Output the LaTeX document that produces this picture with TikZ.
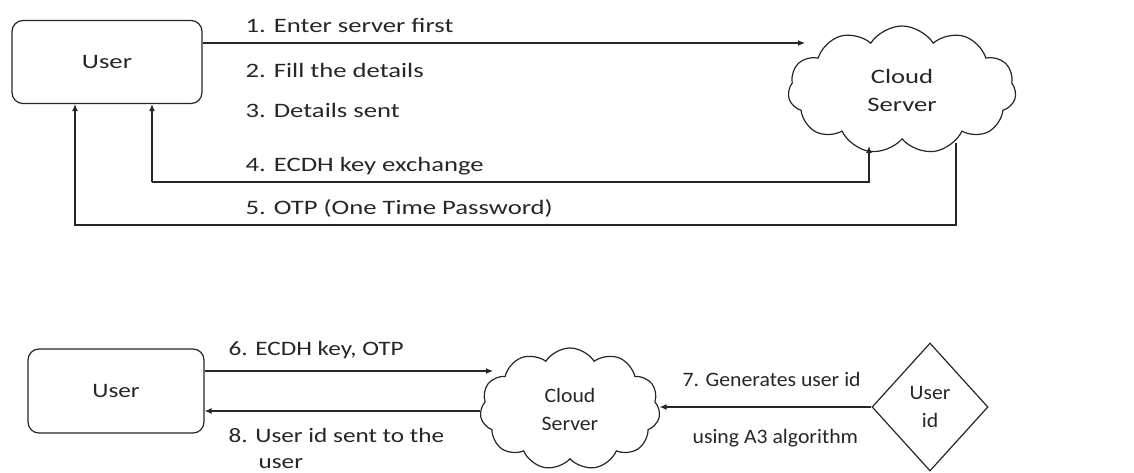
\documentclass[tikz,border=0pt]{standalone}
\usepackage{fontspec}
\setmainfont{Carlito}[FakeStretch=1.3]
\newfontfamily\fmid{Carlito}[FakeStretch=1.23]
\newfontfamily\fnarrow{Carlito}[FakeStretch=1.06]
\usetikzlibrary{shapes.symbols,shapes.geometric,arrows.meta}
\begin{document}
\begin{tikzpicture}[x=1pt,y=-1pt,
  font=\fontsize{20.5}{28}\selectfont,
  line width=1.2pt, draw=black!85, text=black!85,
  userbox/.style={draw, rounded corners=11pt, inner sep=0pt},
  server/.style={cloud, draw, cloud puffs=11, cloud puff arc=115, inner sep=0pt, align=center},
  idbox/.style={diamond, draw, inner sep=0pt, align=center},
  arr/.style={-{Latex[length=7pt,width=6pt]}},
  lbl/.style={anchor=base west, inner sep=0pt},
  mid/.style={font=\fontsize{20.5}{28}\fmid},
  narrow/.style={font=\fontsize{20.5}{28}\fnarrow}]
\useasboundingbox (0,0) rectangle (1134,472);

% ---- upper exchange ----
\node[userbox, minimum width=190pt, minimum height=83pt] (u1) at (107,62) {User};
\node[server, minimum width=228pt, minimum height=128pt] (c1) at (902,90) {Cloud\\Server};

\coordinate (a1) at (805,43);
\coordinate (e4) at (869,146);
\coordinate (k4) at (152,182);
\coordinate (k5) at (75,225);
\coordinate (s5) at (956,143);

\draw[arr] (u1.east |- a1) -- (a1);
\draw[arr] (k4) -| (e4);
\draw[arr] (k4) -- (k4 |- u1.south);
\draw[arr] (s5) |- (k5) -- (k5 |- u1.south);

\node[lbl] (t1) at (245,32) {1. Enter server first};
\node[lbl] (t2) at (245,77) {2. Fill the details};
\node[lbl] (t3) at (245,117) {3. Details sent};
\node[lbl] (t4) at (245,171) {4. ECDH key exchange};
\node[lbl] (t5) at (245,214) {5. OTP (One Time Password)};

% ---- lower exchange ----
\node[userbox, mid, minimum width=176pt, minimum height=84pt] (u2) at (116,391) {User};
\node[server, narrow, minimum width=180pt, minimum height=122pt] (c2) at (570,409) {Cloud\\Server};
\node[idbox, narrow, minimum width=116pt, minimum height=128pt] (d) at (930,407) {User\\id};

\coordinate (a6) at (493,371);
\draw[arr] (u2.east |- a6) -- (a6);
\draw[arr] (c2.west |- 0,411) -- (u2.east |- 0,411);
\draw[arr] (d.west) -- (c2.east |- d.west);

\node[lbl, mid] (t6) at (228,355) {6. ECDH key, OTP};
\node[lbl, mid] (t8) at (228,442) {8. User id sent to the};
\node[lbl, mid] (t8b) at (258,468) {user};
\node[lbl, narrow] (t7) at (682,386) {7. Generates user id};
\node[lbl, narrow] (t7b) at (692,443) {using A3 algorithm};
\end{tikzpicture}
\end{document}
